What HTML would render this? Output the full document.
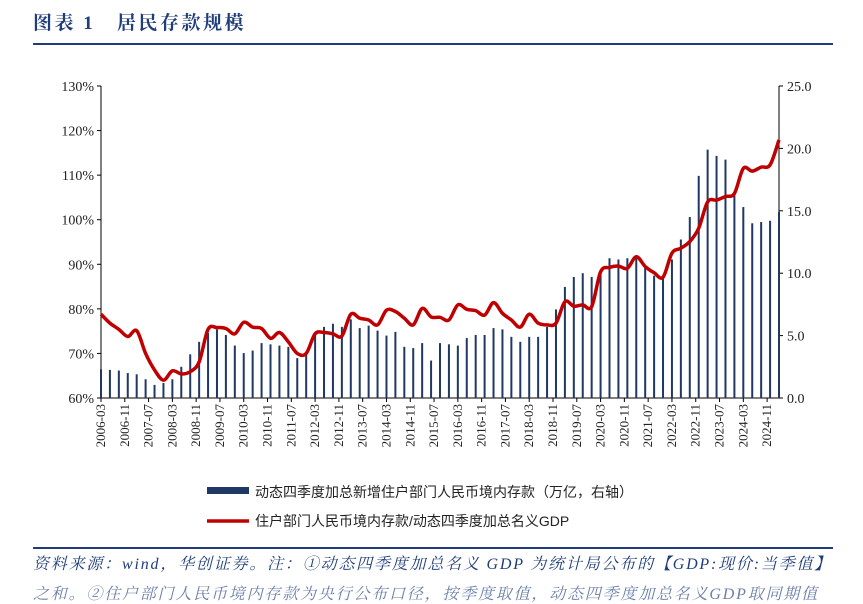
<!DOCTYPE html>
<html><head><meta charset="utf-8">
<style>
body{margin:0;width:863px;height:587px;overflow:hidden;background:#fff;font-family:"Liberation Serif","Noto Serif CJK SC",serif;}
.title{position:absolute;left:33px;top:8px;font-size:19px;font-weight:bold;color:#1f3d7a;letter-spacing:2.5px;}
.rule{position:absolute;left:33px;width:800px;height:2px;background:#1f3d7a;}
.foot{position:absolute;left:33px;top:551px;font-size:16px;color:#1f3d7a;font-style:italic;white-space:nowrap;letter-spacing:1.8px;}
</style></head><body>
<div class="title">图表 1&nbsp;&nbsp;&nbsp;居民存款规模</div>
<div class="rule" style="top:43px"></div>
<svg id="chart" width="863" height="587" style="position:absolute;left:0;top:0"></svg>
<div class="rule" style="top:547px"></div>
<div class="foot">资料来源：wind，华创证券。注：①动态四季度加总名义 GDP 为统计局公布的【GDP:现价:当季值】</div>
<div class="foot" style="top:581px;color:#6b7fa8">之和。②住户部门人民币境内存款为央行公布口径，按季度取值，动态四季度加总名义GDP取同期值</div>
<script>
const labels=["2006-03","2006-11","2007-07","2008-03","2008-11","2009-07","2010-03","2010-11","2011-07","2012-03","2012-11","2013-07","2014-03","2014-11","2015-07","2016-03","2016-11","2017-07","2018-03","2018-11","2019-07","2020-03","2020-11","2021-07","2022-03","2022-11","2023-07","2024-03","2024-11"];
const deposits=[2.3,2.25,2.2,2.0,1.9,1.5,1.05,1.2,1.5,2.5,3.5,4.5,5.2,5.5,5.05,4.2,3.6,3.8,4.4,4.3,4.2,4.1,3.2,3.5,5.05,5.7,5.95,5.7,6.3,5.6,5.8,5.4,5.0,5.3,4.1,4.0,4.4,3.0,4.4,4.3,4.2,4.8,5.05,5.05,5.6,5.5,4.9,4.5,4.9,4.9,5.7,7.1,8.9,9.7,10.0,9.7,10.2,11.2,11.1,11.2,11.2,10.5,9.8,9.6,11.1,12.7,14.5,17.8,19.9,19.4,19.1,16.3,15.3,14.0,14.1,14.2,14.9];
const ratio=[78.8,76.8,75.4,73.8,75.1,70.0,66.3,64.0,66.1,65.4,65.9,68.1,75.4,75.8,75.6,74.4,77.0,75.9,75.6,73.4,74.7,72.6,70.0,70.0,74.4,74.7,74.4,73.9,78.8,77.9,77.5,76.4,79.7,79.4,77.9,76.4,80.1,78.2,78.1,77.5,80.9,79.9,79.6,78.6,81.4,79.0,77.5,75.9,78.8,76.8,76.4,76.8,81.6,80.6,80.9,80.5,88.3,89.3,89.6,89.1,91.7,89.5,88.1,87.1,92.5,93.6,95.1,98.1,104.0,104.4,105.2,105.9,111.5,110.9,111.8,112.3,117.9];
const leftTicks=[60,70,80,90,100,110,120,130];
const rightTicks=[0,5,10,15,20,25];
const svg=document.getElementById('chart');const NS="http://www.w3.org/2000/svg";
const X0=101,X1=779,Y0=398,Y1=86,MONTHS=228;
function xm(m){return X0+(X1-X0)*m/MONTHS;}
function xq(i){return xm(i*3);}
function yl(v){return Y0-(v-60)/70*(Y0-Y1);}
function yr(v){return Y0-v/25*(Y0-Y1);}
function mk(t,a,p){const e=document.createElementNS(NS,t);for(const k in a)e.setAttribute(k,a[k]);(p||svg).appendChild(e);return e;}
let e=mk('line',{x1:X0,y1:Y1,x2:X0,y2:Y0,stroke:'#000','stroke-width':1});


e=mk('line',{x1:X1,y1:Y1,x2:X1,y2:Y0,stroke:'#000','stroke-width':1});


e=mk('line',{x1:X0,y1:Y0,x2:X1,y2:Y0,stroke:'#000','stroke-width':1});


leftTicks.forEach(v=>{const y=yl(v);mk('line',{x1:X0-4,y1:y,x2:X0,y2:y,stroke:'#000'});
 const t=mk('text',{x:X0-7,y:y+5,'text-anchor':'end','font-size':14,fill:'#222'});t.textContent=v+'%';
 
 });
rightTicks.forEach(v=>{const y=yr(v);mk('line',{x1:X1,y1:y,x2:X1+4,y2:y,stroke:'#000'});
 const t=mk('text',{x:X1+8,y:y+5,'font-size':14,fill:'#222'});t.textContent=v.toFixed(1);
 
 });
labels.forEach((l,i)=>{const x=xm(i*8);mk('line',{x1:x,y1:Y0,x2:x,y2:Y0+4,stroke:'#000'});
 const t=mk('text',{x:0,y:0,'text-anchor':'end','font-size':13,fill:'#222',transform:`translate(${x+4},${Y0+6}) rotate(-90)`});t.textContent=l;
 
 });
deposits.forEach((v,i)=>{const x=xq(i);const b=mk('rect',{x:x-1,y:yr(v),width:2,height:Y0-yr(v),fill:'#1f3864'});
 
 });
const P=ratio.map((v,i)=>[xq(i),yl(v)]);
let d=`M${P[0][0]},${P[0][1]}`;
for(let i=0;i<P.length-1;i++){const p0=P[Math.max(0,i-1)],p1=P[i],p2=P[i+1],p3=P[Math.min(P.length-1,i+2)];
 d+=` C${p1[0]+(p2[0]-p0[0])/6},${p1[1]+(p2[1]-p0[1])/6} ${p2[0]-(p3[0]-p1[0])/6},${p2[1]-(p3[1]-p1[1])/6} ${p2[0]},${p2[1]}`;}
const ln=mk('path',{d:d,fill:'none',stroke:'#c00000','stroke-width':3.5,'stroke-linejoin':'round'});


const g=mk('g',{});


mk('rect',{x:207,y:487,width:42,height:7,fill:'#1f3864'},g);
let t=mk('text',{x:255,y:497,'font-size':14,fill:'#222','font-family':'"Liberation Sans","Noto Sans CJK SC",sans-serif'},g);t.textContent='动态四季度加总新增住户部门人民币境内存款（万亿，右轴）';


mk('line',{x1:207,y1:521,x2:249,y2:521,stroke:'#c00000','stroke-width':3.5},g);
t=mk('text',{x:255,y:526,'font-size':14,fill:'#222','font-family':'"Liberation Sans","Noto Sans CJK SC",sans-serif'},g);t.textContent='住户部门人民币境内存款/动态四季度加总名义GDP';


</script>
</body></html>
